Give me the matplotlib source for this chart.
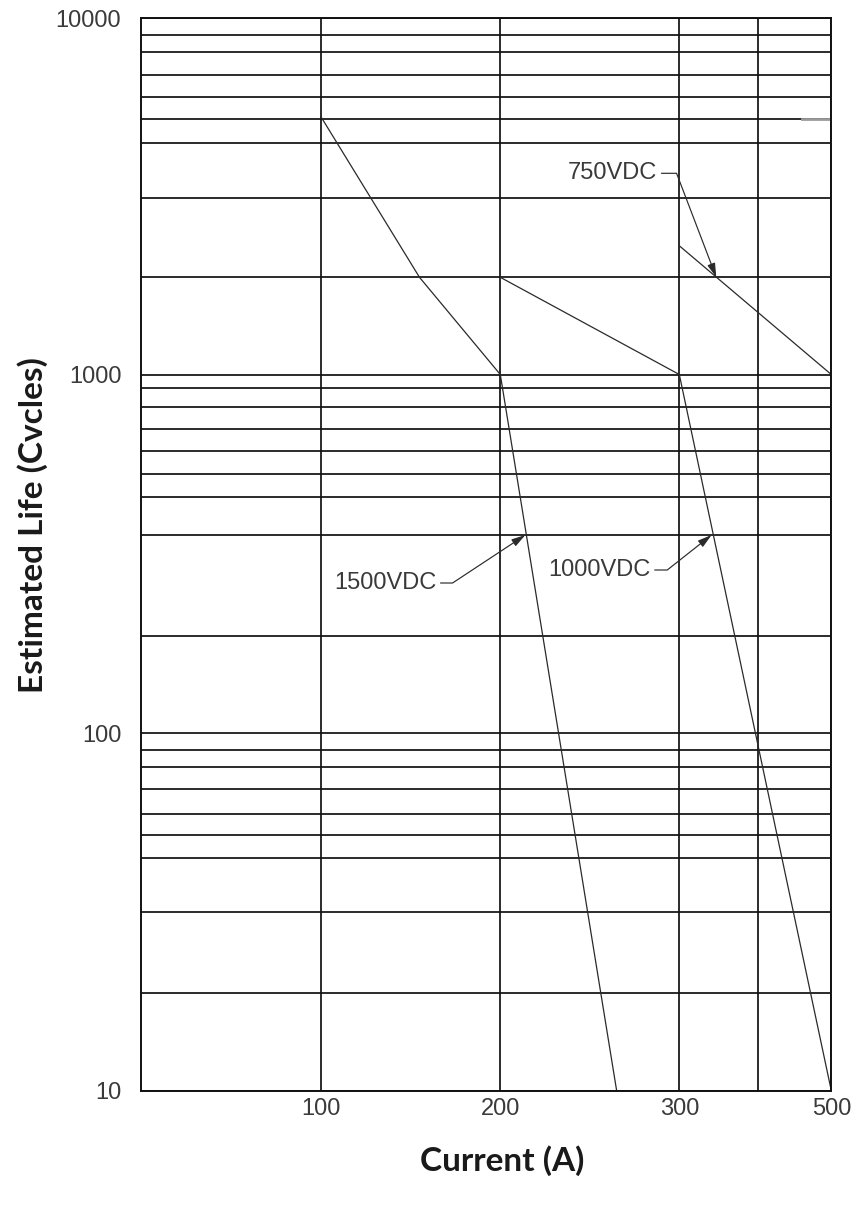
import numpy as np
import matplotlib
matplotlib.use('Agg')
import matplotlib.pyplot as plt

# Curve data: current (A) vs estimated life (cycles)
cur_1500 = [100, 155, 200, 265]
life_1500 = [5100, 2000, 1000, 10]
cur_1000 = [200, 300, 500]
life_1000 = [2000, 1000, 10]
cur_750 = [300, 500]
life_750 = [2350, 1000]

x_ticks = [100, 200, 300, 500]
x_tick_labels = ['100', '200', '300', '500']
x_minor = [400]
y_ticks = [10, 100, 1000, 10000]
y_tick_labels = ['10', '100', '1000', '10000']
y_grid = [20, 30, 40, 50, 60, 70, 80, 90,
          200, 300, 400, 500, 600, 700, 800, 900,
          2000, 3000, 4000, 5000, 6000, 7000, 8000, 9000]

labels = ['1500VDC', '1000VDC', '750VDC']
label_points = [(214, 300), (341, 300), (347, 2000)]

# The printed graph paper is not evenly ruled; these calibrate the scales
# (value -> distance on the paper)
paper_x_vals = [0, 100, 200, 300, 400, 500]
paper_x = [0, 180, 359.6, 538.6, 617.3, 690.6]
paper_y_vals = [10, 20, 30, 40, 50, 60, 70, 80, 90, 100,
                200, 300, 400, 500, 600, 700, 800, 900, 1000,
                2000, 3000, 4000, 5000, 6000, 7000, 8000, 9000, 10000]
paper_y = [0, 98, 178.7, 232.7, 255.4, 277, 301.7, 324, 340.7, 357.4,
           455, 555.7, 593.4, 616.7, 639.7, 662, 684, 702.7, 716.2,
           813.4, 892.7, 947.4, 972, 993.7, 1016, 1038.7, 1056, 1072.4]


def interp_ext(v, xp, fp):
    # piecewise linear with linear extrapolation at both ends
    xp = np.asarray(xp, float)
    fp = np.asarray(fp, float)
    v = np.asarray(v, float)
    out = np.interp(v, xp, fp)
    lo = v < xp[0]
    hi = v > xp[-1]
    s0 = (fp[1] - fp[0]) / (xp[1] - xp[0])
    s1 = (fp[-1] - fp[-2]) / (xp[-1] - xp[-2])
    out = np.where(lo, fp[0] + (v - xp[0]) * s0, out)
    out = np.where(hi, fp[-1] + (v - xp[-1]) * s1, out)
    return out


log_y_vals = np.log10(paper_y_vals)


def x_fwd(v):
    return interp_ext(v, paper_x_vals, paper_x)


def x_inv(p):
    return interp_ext(p, paper_x, paper_x_vals)


def y_fwd(v):
    v = np.clip(np.asarray(v, float), 1e-6, None)
    return interp_ext(np.log10(v), log_y_vals, paper_y)


def y_inv(p):
    return 10 ** interp_ext(p, paper_y, log_y_vals)


fig = plt.figure(figsize=(8.54, 12.05), dpi=100)
ax = fig.add_axes([140.7 / 854, 1 - 1090.7 / 1205, 690.6 / 854, 1072.4 / 1205])
ax.set_xscale('function', functions=(x_fwd, x_inv))
ax.set_yscale('function', functions=(y_fwd, y_inv))
ax.set_xlim(0, 500)
ax.set_ylim(10, 10000)

ax.set_xticks(x_ticks)
ax.set_xticklabels(x_tick_labels)
ax.set_xticks(x_minor, minor=True)
ax.set_yticks(y_ticks)
ax.set_yticklabels(y_tick_labels)
ax.set_yticks(y_grid, minor=True)
ax.yaxis.set_minor_formatter(matplotlib.ticker.NullFormatter())
ax.xaxis.set_minor_formatter(matplotlib.ticker.NullFormatter())

ax.grid(which='both', color='#111111', lw=1.25)
for s in ax.spines.values():
    s.set_color('#111111')
    s.set_linewidth(1.4)
ax.tick_params(which='both', length=0)
ax.tick_params(axis='y', pad=14, labelsize=17, labelcolor='#3a3a3a')
ax.tick_params(axis='x', pad=5, labelsize=17, labelcolor='#3a3a3a')
for t in ax.get_xticklabels() + ax.get_yticklabels():
    t.set_fontfamily('Liberation Sans')

# Curves
line_kw = dict(color='#2a2a2a', lw=0.9)
ax.plot(cur_1500, life_1500, **line_kw)
ax.plot(cur_1000, life_1000, **line_kw)
ax.plot(cur_750, life_750, **line_kw)
ax.plot([460, 500], [5000, 5000], color='#9a9a9a', lw=2.0)

# Callouts: text, short horizontal lead, then arrow onto the curve
text_offsets = [(-89, -48), (-61, -35), (-59, 104)]
angles_b = [213.4, 218.3, 110.9]
for lab, pt, off, angb in zip(labels, label_points, text_offsets, angles_b):
    ax.annotate(lab, xy=pt, xytext=off, textcoords='offset pixels',
                ha='right', va='center', fontsize=17, color='#3a3a3a',
                family='Liberation Sans',
                arrowprops=dict(arrowstyle='-|>,head_length=0.7,head_width=0.2',
                                connectionstyle=f'angle,angleA=0,angleB={angb},rad=0',
                                color='#2a2a2a', lw=0.85, mutation_scale=12,
                                shrinkA=1, shrinkB=0))

ax.set_xlabel('Current (A)', fontsize=24, fontweight='bold', family='Lato',
              color='#1a1a1a', va='center')
ax.xaxis.set_label_coords(0.524, -0.0656)
ax.set_ylabel('Estimated Life (Cvcles)', fontsize=24, fontweight='bold',
              family='Lato', color='#1a1a1a', va='center')
ax.yaxis.set_label_coords(-0.157, 0.5275)

fig.savefig('out.png', dpi=100)
